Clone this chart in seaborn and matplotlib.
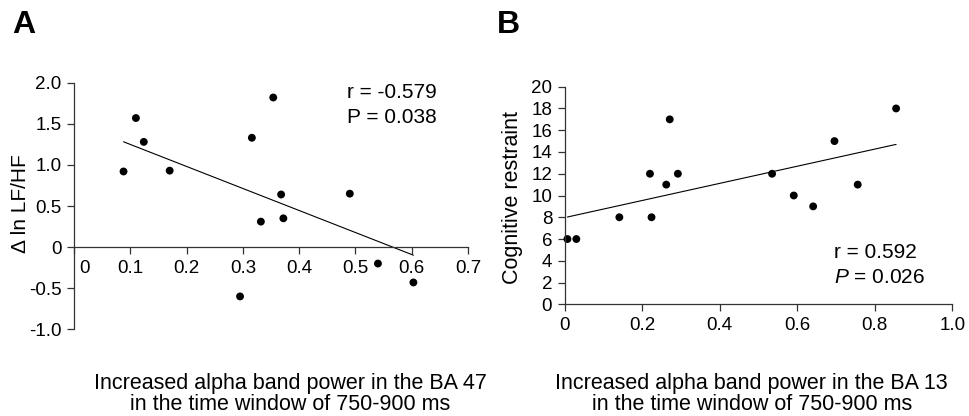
import matplotlib
matplotlib.use("Agg")
import matplotlib.pyplot as plt
import matplotlib.transforms as mtransforms
import seaborn as sns

# Panel A: BA 47 alpha power vs change in ln LF/HF
a_power = [0.088, 0.110, 0.124, 0.170, 0.295, 0.316, 0.332, 0.354, 0.368, 0.372, 0.490, 0.540, 0.603]
a_lfhf = [0.92, 1.57, 1.28, 0.93, -0.60, 1.33, 0.31, 1.82, 0.64, 0.35, 0.65, -0.20, -0.43]
a_xticks = [0, 0.1, 0.2, 0.3, 0.4, 0.5, 0.6, 0.7]
a_xlabels = ['0', '0.1', '0.2', '0.3', '0.4', '0.5', '0.6', '0.7']
a_yticks = [-1.0, -0.5, 0, 0.5, 1.0, 1.5, 2.0]
a_ylabels = ['-1.0', '-0.5', '0', '0.5', '1.0', '1.5', '2.0']

# Panel B: BA 13 alpha power vs cognitive restraint
b_power = [0.007, 0.030, 0.141, 0.220, 0.224, 0.262, 0.271, 0.292, 0.535, 0.591, 0.641, 0.696, 0.756, 0.855]
b_restraint = [6, 6, 8, 12, 8, 11, 17, 12, 12, 10, 9, 15, 11, 18]
b_xticks = [0, 0.2, 0.4, 0.6, 0.8, 1.0]
b_xlabels = ['0', '0.2', '0.4', '0.6', '0.8', '1.0']
b_yticks = list(range(0, 21, 2))

sns.set_style('ticks')
plt.rcParams['font.family'] = ['Liberation Sans', 'DejaVu Sans']
plt.rcParams['text.color'] = 'black'
plt.rcParams['axes.labelcolor'] = 'black'
plt.rcParams['mathtext.fontset'] = 'custom'
plt.rcParams['mathtext.rm'] = 'Liberation Sans'
plt.rcParams['mathtext.it'] = 'Liberation Sans:italic'

W, H = 970, 416
fig = plt.figure(figsize=(W / 100, H / 100), dpi=100)

def px(x, y):
    return x / W, 1 - y / H

axA = fig.add_axes([74 / W, 1 - 329.3 / H, 394 / W, 246.6 / H])
axB = fig.add_axes([564.7 / W, 1 - 304.3 / H, 387.6 / W, 217.6 / H])

line_kw = {'lw': 0.8, 'color': 'black'}
dot_kw = {'s': 32, 'color': 'black', 'edgecolor': 'none', 'alpha': 1, 'clip_on': False}

sns.regplot(x=a_power, y=a_lfhf, ci=None, ax=axA, scatter_kws=dot_kw, line_kws=line_kw)
sns.regplot(x=b_power, y=b_restraint, ci=None, ax=axB, scatter_kws=dot_kw, line_kws=line_kw)

spine_col = '#333333'
for ax in (axA, axB):
    for s in ('top', 'right'):
        ax.spines[s].set_visible(False)
    for s in ('left', 'bottom'):
        ax.spines[s].set_color(spine_col)
        ax.spines[s].set_linewidth(0.9)
    ax.tick_params(axis='both', direction='out', length=5, width=0.9, color=spine_col,
                   labelsize=13.5, pad=4, labelcolor='black')

# A
axA.set_xlim(0, 0.7)
axA.set_ylim(-1.0, 2.0)
axA.spines['bottom'].set_position(('data', 0))
axA.set_xticks(a_xticks, a_xlabels)
axA.set_yticks(a_yticks, a_ylabels)
lbl0 = axA.get_xticklabels()[0]
lbl0.set_transform(lbl0.get_transform() + mtransforms.ScaledTranslation(10 / 100, 0, fig.dpi_scale_trans))
axA.set_xlabel('')
axA.set_ylabel('Δ ln LF/HF', fontsize=15, va='center')
axA.yaxis.set_label_coords((20.7 - 74) / 394, 0.51)

# B
axB.set_xlim(0, 1.0)
axB.set_ylim(0, 20)
axB.set_xticks(b_xticks, b_xlabels)
axB.set_yticks(b_yticks)
axB.set_xlabel('')
axB.set_ylabel('Cognitive restraint', fontsize=15.5, va='center')
axB.yaxis.set_label_coords((512.7 - 564.7) / 387.6, 0.49)

# statistics
fig.text(*px(346.7, 98.3), 'r = -0.579', fontsize=15, va='baseline')
fig.text(*px(346.7, 123.3), 'P = 0.038', fontsize=15, va='baseline')
fig.text(*px(834.3, 258), 'r = 0.592', fontsize=15, va='baseline')
fig.text(*px(834.3, 283.3), r'$\mathit{P}$ = 0.026', fontsize=15, va='baseline')

# x labels below the panels
fig.text(*px(290, 393.5), 'Increased alpha band power in the BA 47\nin the time window of 750-900 ms',
         fontsize=15.5, ha='center', va='center', linespacing=1.0)
fig.text(*px(751.7, 393.5), 'Increased alpha band power in the BA 13\nin the time window of 750-900 ms',
         fontsize=15.5, ha='center', va='center', linespacing=1.0)

# panel letters
fig.text(*px(12.7, 33.3), 'A', fontsize=23, fontweight='bold', va='baseline')
fig.text(*px(496.7, 33.3), 'B', fontsize=23, fontweight='bold', va='baseline')

fig.savefig('out.png', dpi=100)
